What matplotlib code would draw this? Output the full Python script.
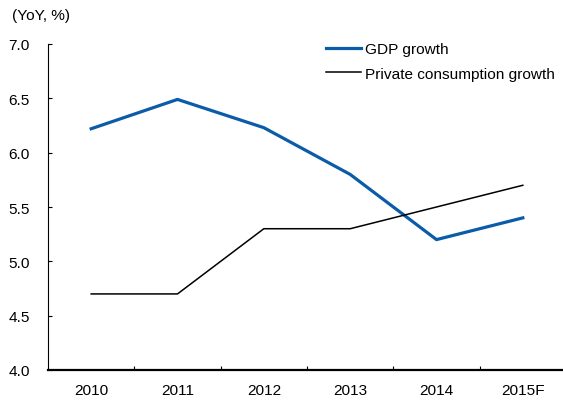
import matplotlib
matplotlib.use("Agg")
import matplotlib.pyplot as plt

# series (YoY, %)
years = ["2010", "2011", "2012", "2013", "2014", "2015F"]
gdp_growth = [6.22, 6.49, 6.23, 5.80, 5.20, 5.40]
consumption_growth = [4.70, 4.70, 5.30, 5.30, 5.50, 5.70]
y_ticks = [4.0, 4.5, 5.0, 5.5, 6.0, 6.5, 7.0]

plt.rcParams["font.family"] = ["Liberation Sans", "DejaVu Sans"]
fs = 11.1

fig = plt.figure(figsize=(5.63, 4.02), dpi=100)
ax = fig.add_axes([48 / 563, 31 / 402, 515 / 563, 326 / 402])

x = list(range(len(years)))
ax.plot(x, gdp_growth, color="#0b5ca8", lw=2.3, label="GDP growth")
ax.plot(x, consumption_growth, color="black", lw=1.1, label="Private consumption growth")

ax.set_xlim(-0.5, 5.5 - 3 / 86.5)
ax.set_ylim(4.0, 7.0)
ax.set_yticks(y_ticks)
ax.set_yticklabels([f"{v:.1f}" for v in y_ticks])
ax.set_xticks([i + 0.5 for i in x[:-1]])
ax.set_xticklabels([])
ax.set_xticks(x, minor=True)
ax.set_xticklabels(years, minor=True)

ax.tick_params(axis="y", direction="in", length=3, width=0.8, pad=13, labelsize=fs)
ax.tick_params(axis="x", which="major", direction="in", length=3, width=0.8)
ax.tick_params(axis="x", which="minor", length=0, pad=9.5, labelsize=fs)

for side in ["top", "right"]:
    ax.spines[side].set_visible(False)
ax.spines["left"].set_linewidth(0.8)
ax.spines["bottom"].set_linewidth(1.6)

ax.legend(loc="upper left", bbox_to_anchor=(0.512, 1.049), frameon=False,
          fontsize=fs, handlelength=2.3, handletextpad=0.25, labelspacing=0.7)

fig.text(12 / 563, 1 - 16 / 402, "(YoY, %)", fontsize=fs, va="center", ha="left")

fig.savefig("out.png", dpi=100)
